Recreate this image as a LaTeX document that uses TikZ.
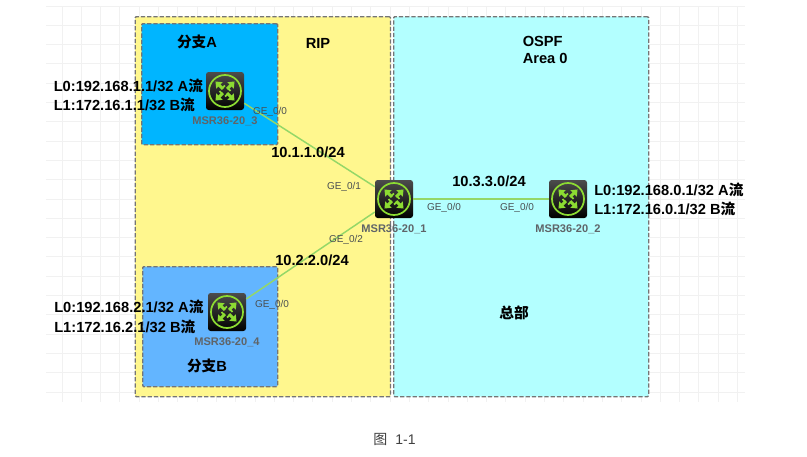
\documentclass[tikz,border=0pt]{standalone}
\usepackage{fontspec}
\setmainfont{Liberation Sans}
\newfontfamily\cjk{Noto Sans CJK SC}
\usetikzlibrary{positioning, arrows.meta}
\definecolor{RipY}{HTML}{FFF78E}
\definecolor{OspfC}{HTML}{B3FFFF}
\definecolor{BranchA}{HTML}{00B5FF}
\definecolor{BranchB}{HTML}{63B5FF}
\definecolor{FrameG}{HTML}{757575}
\definecolor{GridG}{HTML}{F1F1F1}
\definecolor{LinkG}{HTML}{94D768}
\definecolor{IconG}{HTML}{8CDB32}
\definecolor{NameG}{HTML}{5F6468}
\definecolor{PortG}{HTML}{4A4F52}
\tikzset{
  area/.style={draw=FrameG, line width=1pt, dash pattern=on 3.2pt off 1.5pt,
               rounded corners=0.8pt},
  router/.style={rounded corners=2pt, minimum size=28.5pt, inner sep=0pt,
                 top color=black!70, bottom color=black, draw=none,
                 path picture={
                   \begin{scope}[shift={(path picture bounding box.center)}]
                     \draw[IconG, line width=1.3pt] (0,0) circle (16);
                     \foreach \ang in {45,135,225,315} {
                       \draw[IconG, line width=2.2pt, -{Triangle[length=4.2pt,width=6.5pt]}]
                         (\ang:3) -- (\ang:13.5);
                       \draw[IconG, line width=1.3pt]
                         (\ang:4) -- (\ang+45:5.5);
                     }
                   \end{scope}}},
  link/.style={draw=LinkG, line width=1.1pt},
  rname/.style={font=\bfseries\fontsize{8.3}{10}\selectfont, text=NameG, inner sep=0pt},
  port/.style={font=\fontsize{7.5}{9}\selectfont, text=PortG, inner sep=0pt},
  net/.style={font=\bfseries\fontsize{11}{13}\selectfont, inner sep=0pt},
  areatitle/.style={font=\bfseries\fontsize{11}{13}\selectfont, inner sep=0pt},
  lback/.style={font=\bfseries\fontsize{11}{14.6}\selectfont, align=left,
               inner sep=0pt, anchor=west}
}
\newcommand{\han}[1]{{\cjk #1}}

\begin{document}
\begin{tikzpicture}[x=0.75pt, y=-0.75pt]
  \useasboundingbox (0,0) rectangle (807,457);

  % ----- Background grid -----
  \foreach \gx in {0,...,35} {
    \draw[GridG, line width=0.7pt] (62+19.3*\gx,6) -- (62+19.3*\gx,402);
  }
  \foreach \gy in {0,...,20} {
    \draw[GridG, line width=0.7pt] (46,6+19.3*\gy) -- (745,6+19.3*\gy);
  }

  % ----- Routing areas -----
  \node[area, fill=RipY, anchor=north west, minimum width=191.5pt, minimum height=285pt,
        inner sep=0pt] (rip) at (134.5,16) {};
  \node[area, fill=OspfC, anchor=north west, minimum width=191.25pt, minimum height=285pt,
        inner sep=0pt] (ospf) at (393,16) {};
  \node[area, fill=BranchA, anchor=north west, minimum width=102pt, minimum height=90.75pt,
        inner sep=0pt] (brancha) at (141,23) {};
  \node[area, fill=BranchB, anchor=north west, minimum width=101.25pt, minimum height=90pt,
        inner sep=0pt] (branchb) at (142,266) {};

  % ----- Routers -----
  \node[router] (r3) at (225,91) {};
  \node[router] (r1) at (394,199) {};
  \node[router] (r2) at (568,199) {};
  \node[router] (r4) at (227,312) {};

  % ----- Links -----
  \draw[link] (r3) -- (r1);
  \draw[link] (r4) -- (r1);
  \draw[link] (r1) -- (r2);

  % ----- Router names -----
  \node[rname, below=4.5pt of r3] (n3) {MSR36-20\_3};
  \node[rname, below=4.5pt of r1] (n1) {MSR36-20\_1};
  \node[rname, below=4.5pt of r2] (n2) {MSR36-20\_2};
  \node[rname, below=4.5pt of r4] (n4) {MSR36-20\_4};

  % ----- Ports -----
  \node[port] (p30) at (270,112) {GE\_0/0};
  \node[port] (p11) at (344,187) {GE\_0/1};
  \node[port] (p12) at (346,240) {GE\_0/2};
  \node[port] (p40) at (272,305) {GE\_0/0};
  \node[port] (p10) at (444,208) {GE\_0/0};
  \node[port] (p20) at (517,208) {GE\_0/0};

  % ----- Networks -----
  \node[net] (net1) at (308,152) {10.1.1.0/24};
  \node[net] (net2) at (312,260) {10.2.2.0/24};
  \node[net] (net3) at (489,181) {10.3.3.0/24};

  % ----- Area titles -----
  \node[areatitle] (tA) at (197,42) {\han{分支}A};
  \node[areatitle] (tB) at (207,366) {\han{分支}B};
  \node[areatitle] (tRip) at (318,43) {RIP};
  \node[areatitle, anchor=north west, align=left] (tOspf) at (522.5,36)
    {OSPF\\Area 0};
  \node[areatitle] (tHq) at (514,313) {\han{总部}};

  % ----- Loopbacks -----
  \node[lback] (l3) at (53.5,95.5)
    {L0:192.168.1.1/32 A\han{流}\\L1:172.16.1.1/32 B\han{流}};
  \node[lback] (l4) at (54,317)
    {L0:192.168.2.1/32 A\han{流}\\L1:172.16.2.1/32 B\han{流}};
  \node[lback] (l2) at (594,199.5)
    {L0:192.168.0.1/32 A\han{流}\\L1:172.16.0.1/32 B\han{流}};

  % ----- Caption -----
  \node[font=\fontsize{10.5}{12}\selectfont, text=black!75, inner sep=0pt] (cap) at (394.5,439)
    {\han{图}\hspace{3pt} 1-1};
\end{tikzpicture}
\end{document}
